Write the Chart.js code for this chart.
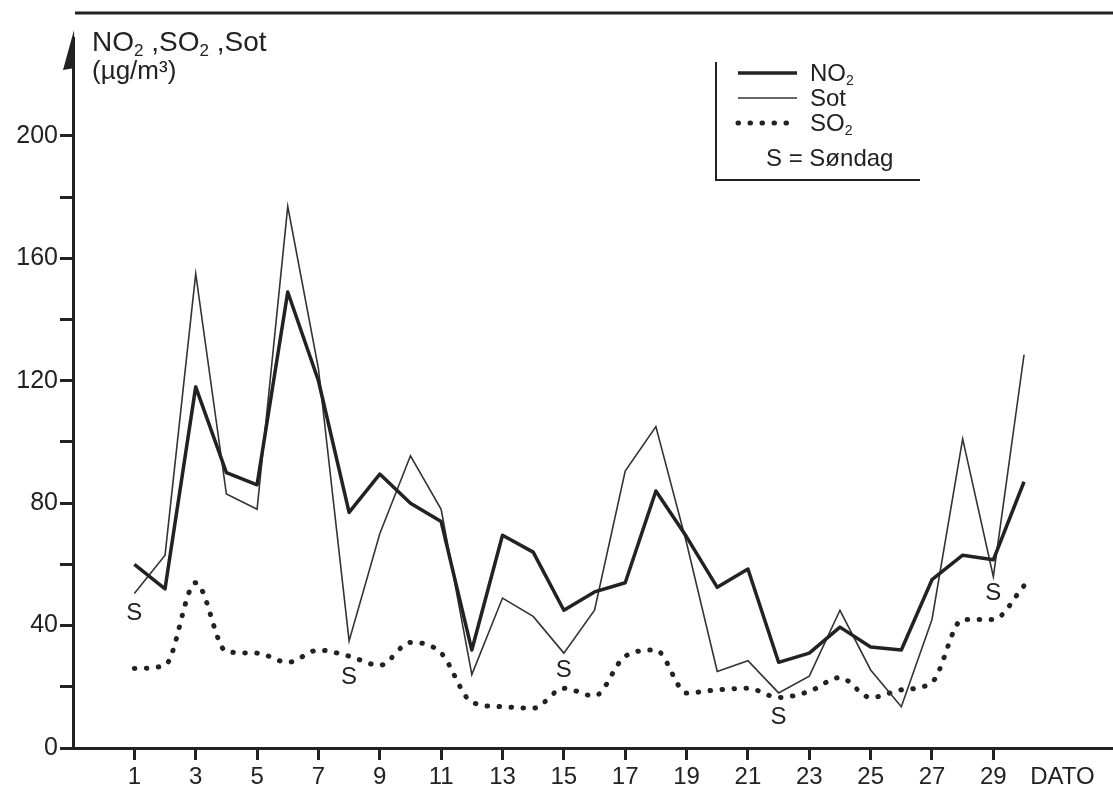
<!DOCTYPE html>
<html>
<head>
<meta charset="utf-8">
<script src="https://cdn.jsdelivr.net/npm/chart.js@4.4.1/dist/chart.umd.min.js"></script>
<style>
  html, body { margin: 0; padding: 0; background: #fff; }
  canvas { display: block; }
</style>
</head>
<body>
<canvas id="chart" width="1113" height="790"></canvas>
<script>
// --- DATA (µg/m3 per day) ---
const days = [1, 2, 3, 4, 5, 6, 7, 8, 9, 10, 11, 12, 13, 14, 15,
              16, 17, 18, 19, 20, 21, 22, 23, 24, 25, 26, 27, 28, 29, 30];
const no2 = [60, 52, 118, 90, 86, 149, 120, 77, 89.5, 80, 74, 32, 69.5, 64, 45,
             51, 54, 84, 69, 52.5, 58.5, 28, 31, 39.5, 33, 32, 55, 63, 61.5, 87];
const sot = [50.5, 63, 155, 83, 78, 177, 124, 35, 70, 95.5, 78, 24, 49, 43, 31,
             45, 90.5, 105, 67, 25, 28.5, 18, 23.5, 45, 25.5, 13.5, 42, 101, 56, 128.5];
const so2 = [26, 27, 54, 31.5, 31, 28, 32, 30, 27, 34.5, 31, 15, 13.5, 13, 19.5,
             17, 30, 32, 18, 19, 19.5, 16.5, 18.5, 23, 16.5, 19, 21.5, 42, 42, 53];

// Sundays and the level (µg/m3) where the "S" marker sits
const sundays = [1, 8, 15, 22, 29];
const sundayLabelAt = [44, 23, 25.5, 10, 50.5];

const xTickDays = [1, 3, 5, 7, 9, 11, 13, 15, 17, 19, 21, 23, 25, 27, 29];
const yTickValues = [0, 20, 40, 60, 80, 100, 120, 140, 160, 180, 200];
const yLabelStep = 40;

const INK = '#222';
const FONT = "'Liberation Sans', Arial, Helvetica, sans-serif";

// draws "NO" + subscript "2" style strings, parts = [[text, isSub], ...]
function drawRich(ctx, parts, x, y, size) {
    let cx = x;
    parts.forEach(([t, sub]) => {
        ctx.font = (sub ? Math.round(size * 0.6) : size) + 'px ' + FONT;
        ctx.fillText(t, cx, sub ? y + size * 0.18 : y);
        cx += ctx.measureText(t).width;
    });
}

const decor = {
    id: 'decor',
    afterDraw(chart) {
        const { ctx, chartArea: area, scales: { x, y } } = chart;
        ctx.save();
        ctx.fillStyle = INK;
        ctx.strokeStyle = INK;

        // top edge line of the sheet
        ctx.lineWidth = 3;
        ctx.beginPath();
        ctx.moveTo(area.left + 2, 13);
        ctx.lineTo(chart.width, 13);
        ctx.stroke();

        // arrowhead on the y axis
        ctx.beginPath();
        ctx.moveTo(area.left + 1, area.top - 8);
        ctx.lineTo(area.left - 10, area.top + 32);
        ctx.lineTo(area.left + 2, area.top + 30);
        ctx.closePath();
        ctx.fill();

        // axis title
        ctx.textBaseline = 'alphabetic';
        ctx.textAlign = 'left';
        drawRich(ctx, [['NO', 0], ['2', 1], [' ,SO', 0], ['2', 1], [' ,Sot', 0]], 92, 51, 28);
        drawRich(ctx, [['(µg/m³)', 0]], 92, 79, 26);

        // DATO at the end of the x axis
        ctx.font = '24px ' + FONT;
        ctx.textAlign = 'center';
        ctx.textBaseline = 'middle';
        ctx.fillText('DATO', x.getPixelForValue(31.25), 777);

        // Sunday markers
        sundays.forEach((d, i) => {
            ctx.fillText('S', x.getPixelForValue(d), y.getPixelForValue(sundayLabelAt[i]));
        });

        // legend box (open bracket on left and bottom)
        ctx.lineWidth = 2;
        ctx.beginPath();
        ctx.moveTo(716, 62);
        ctx.lineTo(716, 180);
        ctx.lineTo(920, 180);
        ctx.stroke();

        const rows = [[['NO', 0], ['2', 1]], [['Sot', 0]], [['SO', 0], ['2', 1]]];
        chart.data.datasets.forEach((ds, i) => {
            const ly = 73 + i * 25;
            ctx.save();
            ctx.lineWidth = ds.borderWidth;
            ctx.strokeStyle = ds.borderColor;
            ctx.lineCap = ds.borderCapStyle || 'butt';
            ctx.setLineDash(ds.borderDash || []);
            ctx.beginPath();
            ctx.moveTo(738, ly);
            ctx.lineTo(797, ly);
            ctx.stroke();
            ctx.restore();
            ctx.textAlign = 'left';
            ctx.textBaseline = 'alphabetic';
            drawRich(ctx, rows[i], 810, ly + 8, 24);
        });
        ctx.font = '24px ' + FONT;
        ctx.fillText('S = Søndag', 766, 166);

        ctx.restore();
    }
};

new Chart(document.getElementById('chart'), {
    type: 'line',
    data: {
        datasets: [
            {
                label: 'NO2',
                data: days.map((d, i) => ({ x: d, y: no2[i] })),
                borderColor: INK,
                borderWidth: 3.5,
                borderJoinStyle: 'round',
                pointRadius: 0,
                tension: 0
            },
            {
                label: 'Sot',
                data: days.map((d, i) => ({ x: d, y: sot[i] })),
                borderColor: '#333',
                borderWidth: 1.6,
                pointRadius: 0,
                tension: 0
            },
            {
                label: 'SO2',
                data: days.map((d, i) => ({ x: d, y: so2[i] })),
                borderColor: INK,
                borderWidth: 5,
                borderDash: [0.5, 11.5],
                borderCapStyle: 'round',
                pointRadius: 0,
                cubicInterpolationMode: 'monotone'
            }
        ]
    },
    options: {
        responsive: false,
        animation: false,
        devicePixelRatio: 1,
        layout: { padding: { top: 38, right: 0, left: 0, bottom: 0 } },
        plugins: { legend: { display: false }, tooltip: { enabled: false } },
        scales: {
            x: {
                type: 'linear',
                min: -1,
                max: 32.9,
                afterFit: (s) => { s.height = 42; },
                afterBuildTicks: (s) => { s.ticks = xTickDays.map(v => ({ value: v })); },
                border: { display: true, color: INK, width: 3 },
                grid: { drawOnChartArea: false, drawTicks: true, tickLength: 12, tickWidth: 3, tickColor: INK },
                ticks: { color: INK, padding: 3, font: { family: FONT, size: 24 }, maxRotation: 0, autoSkip: false }
            },
            y: {
                min: 0,
                max: 232,
                afterFit: (s) => { s.width = 73; },
                afterBuildTicks: (s) => { s.ticks = yTickValues.map(v => ({ value: v })); },
                border: { display: true, color: INK, width: 3 },
                grid: { drawOnChartArea: false, drawTicks: true, tickLength: 13, tickWidth: 3, tickColor: INK },
                ticks: {
                    color: INK,
                    padding: 2,
                    font: { family: FONT, size: 25 },
                    callback: (v) => (v % yLabelStep === 0 ? v : '')
                }
            }
        }
    },
    plugins: [decor]
});
</script>
</body>
</html>
